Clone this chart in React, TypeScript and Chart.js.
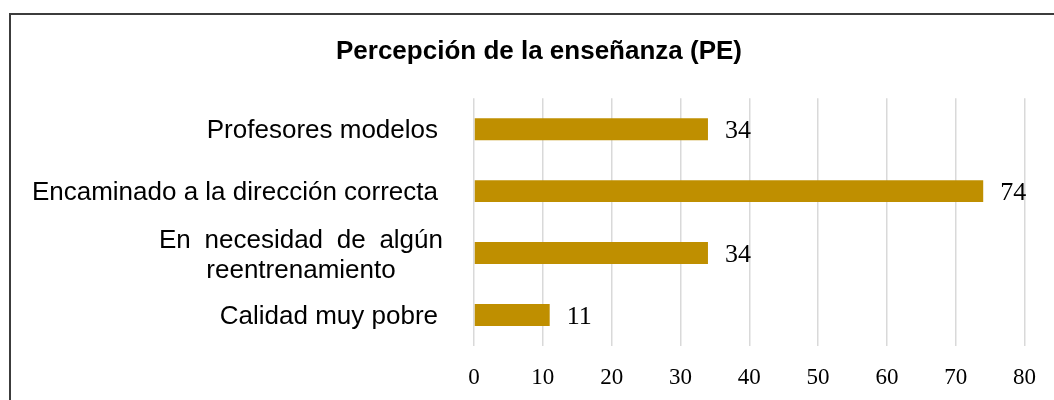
import React, { useEffect, useRef } from "react";
import { Chart, registerables } from "chart.js";

Chart.register(...registerables);

const TITLE = "Percepción de la enseñanza (PE)";
const categories: string[][] = [
  ["Profesores modelos"],
  ["Encaminado a la dirección correcta"],
  ["En necesidad de algún", "reentrenamiento"],
  ["Calidad muy pobre"],
];
const values: number[] = [34, 74, 34, 11];
const xTicks: number[] = [0, 10, 20, 30, 40, 50, 60, 70, 80];

const BAR_COLOR = "#BF8F00";
const SANS = '"Liberation Sans", Arial, sans-serif';
const SERIF = '"Liberation Serif", "Times New Roman", serif';

const yLabelPlugin = {
  id: "yLabels",
  afterDraw(chart: any) {
    const { ctx, chartArea } = chart;
    const yScale = chart.scales.y;
    ctx.save();
    ctx.font = `26px ${SANS}`;
    ctx.fillStyle = "#000000";
    ctx.textBaseline = "alphabetic";
    categories.forEach((lines, i) => {
      const y = yScale.getPixelForValue(i);
      if (lines.length === 1) {
        ctx.textAlign = "right";
        ctx.fillText(lines[0], chartArea.left - 36, y + 8.5);
      } else {
        const right = chartArea.left - 31;
        const blockWidth = 284;
        const left = right - blockWidth;
        const words = lines[0].split(" ");
        const widths = words.map((w) => ctx.measureText(w).width);
        const sum = widths.reduce((a, b) => a + b, 0);
        const gap = (blockWidth - sum) / (words.length - 1);
        ctx.textAlign = "left";
        let x = left;
        words.forEach((w, k) => {
          ctx.fillText(w, x, y - 5);
          x += widths[k] + gap;
        });
        ctx.textAlign = "center";
        for (let l = 1; l < lines.length; l++) {
          ctx.fillText(lines[l], left + blockWidth / 2, y - 5 + 30 * l);
        }
      }
    });
    ctx.restore();
  },
};

const dataLabelPlugin = {
  id: "dataLabels",
  afterDatasetsDraw(chart: any) {
    const { ctx } = chart;
    const meta = chart.getDatasetMeta(0);
    ctx.save();
    ctx.font = `26px ${SERIF}`;
    ctx.fillStyle = "#000000";
    ctx.textAlign = "left";
    ctx.textBaseline = "alphabetic";
    meta.data.forEach((bar: any, i: number) => {
      ctx.fillText(String(values[i]), bar.x + 17, bar.y + 9);
    });
    ctx.restore();
  },
};

export default function App() {
  const canvasRef = useRef<HTMLCanvasElement | null>(null);

  useEffect(() => {
    if (!canvasRef.current) return;
    const chart = new Chart(canvasRef.current, {
      type: "bar",
      data: {
        labels: categories.map((c) => c.join(" ")),
        datasets: [
          {
            data: values,
            backgroundColor: BAR_COLOR,
            borderWidth: 0,
            barPercentage: 0.355,
            categoryPercentage: 1,
          },
        ],
      },
      options: {
        indexAxis: "y",
        animation: false,
        responsive: false,
        maintainAspectRatio: false,
        layout: { padding: { left: 53, right: 29, top: 0, bottom: 10 } },
        plugins: {
          legend: { display: false },
          tooltip: { enabled: false },
          title: {
            display: true,
            text: TITLE,
            color: "#000000",
            font: { family: SANS, size: 26, weight: "bold" },
            padding: { top: 36, bottom: 31 },
          },
        },
        scales: {
          x: {
            min: 0,
            max: 80,
            afterBuildTicks: (scale: any) => {
              scale.ticks = xTicks.map((v) => ({ value: v }));
            },
            afterFit: (scale: any) => {
              scale.height = 44;
            },
            grid: { color: "#d9d9d9", lineWidth: 1.5, drawTicks: false },
            border: { display: false },
            ticks: {
              color: "#000000",
              font: { family: SERIF, size: 23 },
              padding: 18,
              maxRotation: 0,
            },
          },
          y: {
            grid: { display: false },
            border: { display: false },
            ticks: { display: false },
            afterFit: (scale: any) => {
              scale.width = 421;
            },
          },
        },
      },
      plugins: [yLabelPlugin, dataLabelPlugin],
    });
    return () => chart.destroy();
  }, []);

  return (
    <div
      style={{
        position: "absolute",
        left: 0,
        top: 0,
        width: 1054,
        height: 400,
        overflow: "hidden",
        background: "#ffffff",
      }}
    >
      <div
        style={{
          position: "absolute",
          left: 9,
          top: 13,
          width: 1100,
          height: 450,
          border: "2px solid #3c3c3c",
        }}
      />
      <canvas
        ref={canvasRef}
        width={1054}
        height={400}
        style={{ position: "absolute", left: 0, top: 0, width: 1054, height: 400 }}
      />
    </div>
  );
}
